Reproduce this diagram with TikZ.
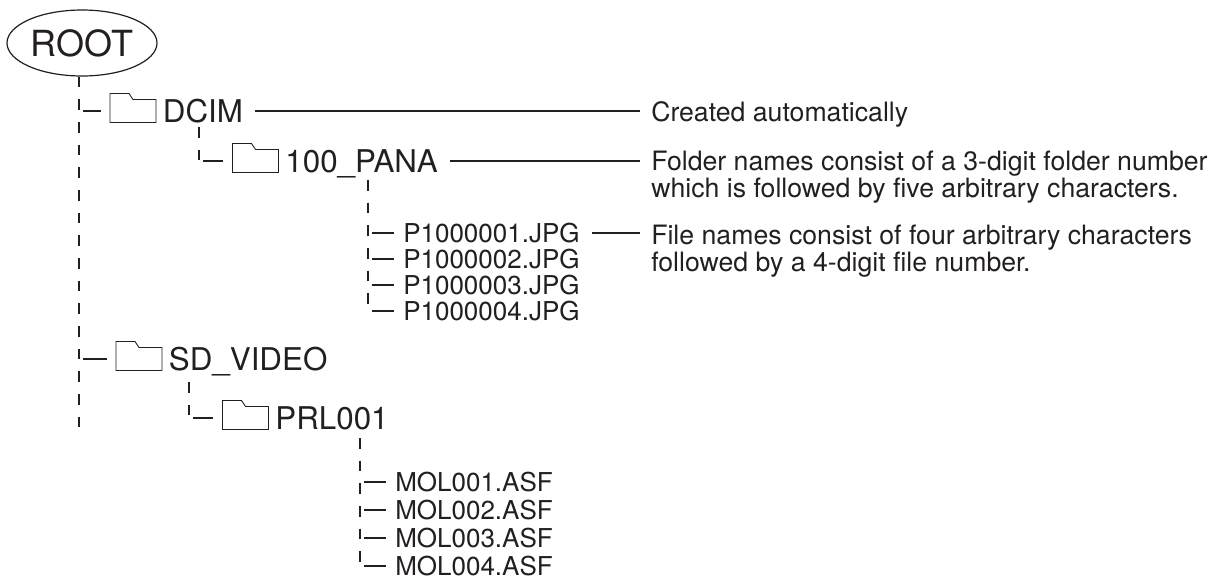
\documentclass[tikz,border=0pt]{standalone}
\usepackage{fontspec}
\setmainfont{TeX Gyre Heros}
\usetikzlibrary{shapes.geometric,positioning}
\definecolor{ink}{RGB}{35,31,32}

\begin{document}
\begin{tikzpicture}[x=0.75pt, y=-0.75pt,
    every node/.style={inner sep=0pt, text=ink},
    rootnode/.style={draw=ink, line width=0.9pt, ellipse, minimum width=112.5pt,
      minimum height=49.5pt, font=\fontsize{27}{30}\selectfont},
    foldername/.style={font=\fontsize{23.5}{28}\selectfont, text height=16.9pt, text depth=0pt},
    filename/.style={anchor=west, font=\fontsize{19.5}{23}\selectfont, text height=14pt, text depth=0pt},
    notetext/.style={anchor=north west, align=left, font=\fontsize{20}{20.25}\selectfont},
    trunk/.style={draw=ink, line width=0.9pt, dash pattern=on 8pt off 9pt},
    branch/.style={draw=ink, line width=0.9pt, shorten <=3pt, shorten >=7pt},
    leader/.style={draw=ink, line width=1pt, shorten <=9pt, shorten >=8pt},
    folder/.pic={
      \draw[ink, line width=0.7pt, line join=miter] (-23,11.5) -- (-23,-17.5) -- (-4,-17.5)
        -- (0,-11.5) -- (23,-11.5) -- (23,11.5) -- cycle;
      \coordinate (-w) at (-23,0);
      \coordinate (-e) at (23,0);
    }]
    \useasboundingbox (0,0) rectangle (1217,583);
    % 根
    \node[rootnode] (root) at (82,43) {ROOT};
    \coordinate (t0end) at (79,435);
    \draw[trunk] (t0end |- root.south) -- (t0end);
    % DCIM 与 100_PANA
    \pic (dcimf) at (133,111) {folder};
    \node[foldername, right=5pt of dcimf-e] (dcim) {DCIM};
    \draw[branch] (t0end |- dcimf-w) -- (dcimf-w);
    \coordinate (t1) at (199,127);
    \pic (panaf) at (255.5,161) {folder};
    \node[foldername, right=5pt of panaf-e] (pana) {100\_PANA};
    \draw[trunk] (t1) -- (t1 |- panaf-w);
    \draw[branch] (t1 |- panaf-w) -- (panaf-w);
    % 图片文件
    \coordinate (t2) at (368,180);
    \foreach \i/\y in {1/233,2/259,3/285,4/311} {
      \node[filename] (p\i) at (403,\y) {P100000\i.JPG};
      \draw[branch] (t2 |- p\i.west) -- (p\i.west);
    }
    \draw[trunk] (t2) -- (t2 |- p4.west);
    % SD_VIDEO 与 PRL001
    \pic (sdf) at (139,359) {folder};
    \node[foldername, right=5pt of sdf-e] (sd) {SD\_VIDEO};
    \draw[branch] (t0end |- sdf-w) -- (sdf-w);
    \coordinate (t3) at (189,382);
    \pic (prlf) at (245.5,418) {folder};
    \node[foldername, right=5pt of prlf-e] (prl) {PRL001};
    \draw[trunk] (t3) -- (t3 |- prlf-w);
    \draw[branch] (t3 |- prlf-w) -- (prlf-w);
    % 视频文件
    \coordinate (t4) at (360,438);
    \foreach \i/\y in {1/482,2/510,3/538,4/566} {
      \node[filename] (m\i) at (395,\y) {MOL00\i.ASF};
      \draw[branch] (t4 |- m\i.west) -- (m\i.west);
    }
    \draw[trunk] (t4) -- (t4 |- m4.west);
    % 说明
    \node[notetext] (note1) at (651,101) {Created automatically};
    \node[notetext] (note2) at (651,151) {Folder names consist of a 3-digit folder number\\which is followed by five arbitrary characters.};
    \node[notetext] (note3) at (651,225) {File names consist of four arbitrary characters\\followed by a 4-digit file number.};
    \draw[leader] (dcim.east) -- (dcim.east -| note1.west);
    \draw[leader] (pana.east) -- (pana.east -| note2.west);
    \draw[leader] (p1.east) -- (p1.east -| note3.west);
\end{tikzpicture}
\end{document}
